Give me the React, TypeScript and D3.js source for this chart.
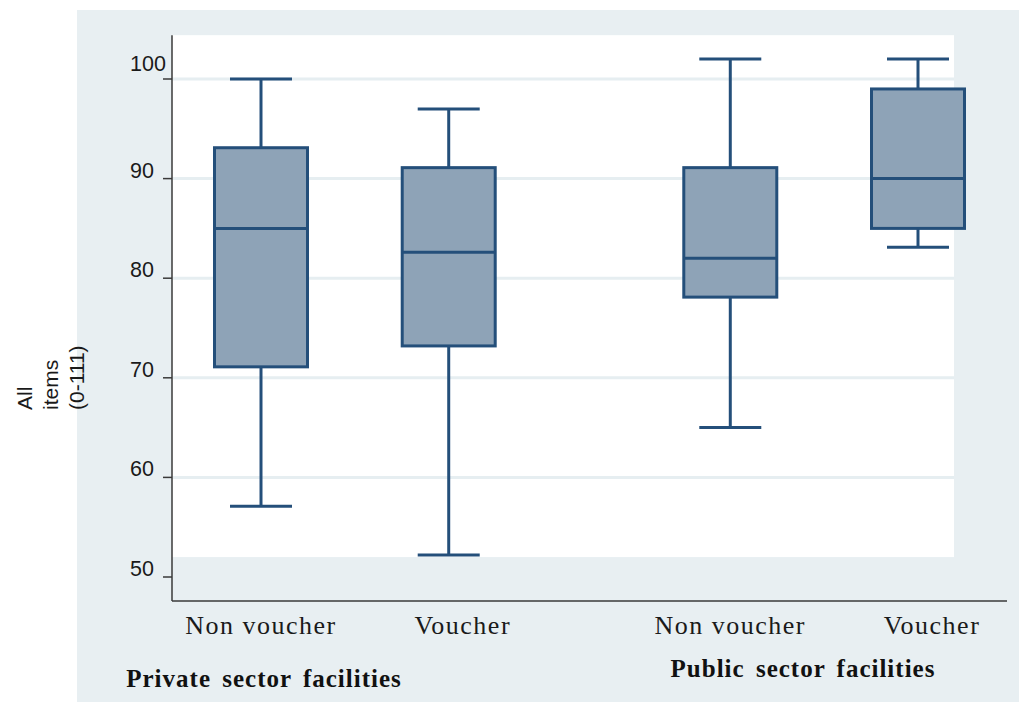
import React from "react";
import * as d3 from "d3";

// Groups and categories along the x axis
const groups = ["Private sector facilities", "Public sector facilities"];
const categories = ["Non voucher", "Voucher"];

// Box statistics per box, in order: private non voucher, private voucher, public non voucher, public voucher
const groupIndex = [0, 0, 1, 1];
const categoryIndex = [0, 1, 0, 1];
const whiskerLow = [57.1, 52.2, 65, 83.1];
const quartile1 = [71.1, 73.2, 78.1, 85];
const medians = [85, 82.6, 82, 90];
const quartile3 = [93.1, 91.1, 91.1, 99];
const whiskerHigh = [100, 97, 102, 102];

// Axis ticks
const yTicks = [50, 60, 70, 80, 90, 100];
const yTitleLines = ["All", "items", "(0-111)"];

const W = 1019;
const H = 702;

const boxFill = "#8ea3b7";
const boxStroke = "#244f7a";
const bgColor = "#e8eff2";
const gridColor = "#e6eef1";
const axisColor = "#3a3a3a";

export default function App() {
  const y = d3.scaleLinear().domain([50, 100]).range([577, 79]);
  // slot positions: groups separated by an extra half slot
  const x = d3.scaleLinear().domain([0, 3.5]).range([261, 918]);
  const slot = (g: number, c: number) => g * 2.5 + c;

  const plotLeft = 172;
  const plotRight = 954;
  const plotTop = y(104.4);
  const plotBottom = y(52);
  const axisY = 601;
  const axisRight = 1007;

  const halfBox = 46.5;
  const halfCap = 31;
  // category label horizontal shift relative to the box centre
  const labelShift = [0, 14];

  const boxes = medians.map((m, i) => ({
    cx: x(slot(groupIndex[i], categoryIndex[i])),
    lo: whiskerLow[i],
    q1: quartile1[i],
    med: m,
    q3: quartile3[i],
    hi: whiskerHigh[i],
  }));

  const groupLabelPos = [
    { x: 264, y: 687 },
    { x: 803, y: 677 },
  ];

  return (
    <svg
      width={W}
      height={H}
      style={{ position: "absolute", left: 0, top: 0, background: "#ffffff" }}
    >
      <rect x={77} y={10} width={W - 77} height={H - 10} fill={bgColor} />
      <rect
        x={plotLeft}
        y={plotTop}
        width={plotRight - plotLeft}
        height={plotBottom - plotTop}
        fill="#ffffff"
      />
      {/* gridlines */}
      {yTicks
        .filter((t) => y(t) > plotTop && y(t) < plotBottom)
        .map((t) => (
          <line
            key={"g" + t}
            x1={plotLeft}
            x2={plotRight}
            y1={y(t)}
            y2={y(t)}
            stroke={gridColor}
            strokeWidth={3}
          />
        ))}

      {/* boxes */}
      {boxes.map((b, i) => (
        <g key={"b" + i} stroke={boxStroke} strokeWidth={3}>
          <line x1={b.cx} x2={b.cx} y1={y(b.hi)} y2={y(b.q3)} />
          <line x1={b.cx} x2={b.cx} y1={y(b.q1)} y2={y(b.lo)} />
          <line x1={b.cx - halfCap} x2={b.cx + halfCap} y1={y(b.hi)} y2={y(b.hi)} />
          <line x1={b.cx - halfCap} x2={b.cx + halfCap} y1={y(b.lo)} y2={y(b.lo)} />
          <rect
            x={b.cx - halfBox}
            y={y(b.q3)}
            width={halfBox * 2}
            height={y(b.q1) - y(b.q3)}
            fill={boxFill}
          />
          <line x1={b.cx - halfBox} x2={b.cx + halfBox} y1={y(b.med)} y2={y(b.med)} />
        </g>
      ))}

      {/* axes */}
      <line x1={plotLeft} x2={plotLeft} y1={plotTop} y2={axisY} stroke={axisColor} strokeWidth={1.5} />
      <line x1={plotLeft} x2={axisRight} y1={axisY} y2={axisY} stroke={axisColor} strokeWidth={1.5} />
      {yTicks.map((t, i) => (
        <g key={"t" + t}>
          <line x1={163} x2={plotLeft} y1={y(t)} y2={y(t)} stroke={axisColor} strokeWidth={1.5} />
          <text
            x={130}
            y={y(t) - 1 - (i === yTicks.length - 1 ? 7 : 0)}
            fontFamily="'Liberation Sans', Arial, sans-serif"
            fontSize={21.5}
            fill="#1a1a1a"
          >
            {t}
          </text>
        </g>
      ))}

      {/* y axis title */}
      {yTitleLines.map((s, i) => (
        <text
          key={"yt" + i}
          transform={`translate(${32 + i * 26},410) rotate(-90)`}
          fontFamily="'Liberation Sans', Arial, sans-serif"
          fontSize={21}
          fill="#1a1a1a"
        >
          {s}
        </text>
      ))}

      {/* category labels */}
      {boxes.map((b, i) => (
        <text
          key={"c" + i}
          x={b.cx + labelShift[categoryIndex[i]]}
          y={634}
          textAnchor="middle"
          fontFamily="'Liberation Serif', 'Times New Roman', serif"
          fontSize={26}
          letterSpacing={1.5}
          fill="#1a1a1a"
        >
          {categories[categoryIndex[i]]}
        </text>
      ))}

      {/* group labels */}
      {groups.map((g, i) => (
        <text
          key={"gl" + i}
          x={groupLabelPos[i].x}
          y={groupLabelPos[i].y}
          textAnchor="middle"
          fontFamily="'Liberation Serif', 'Times New Roman', serif"
          fontWeight="bold"
          fontSize={25}
          letterSpacing={1}
          wordSpacing={4}
          fill="#111111"
        >
          {g}
        </text>
      ))}
    </svg>
  );
}
